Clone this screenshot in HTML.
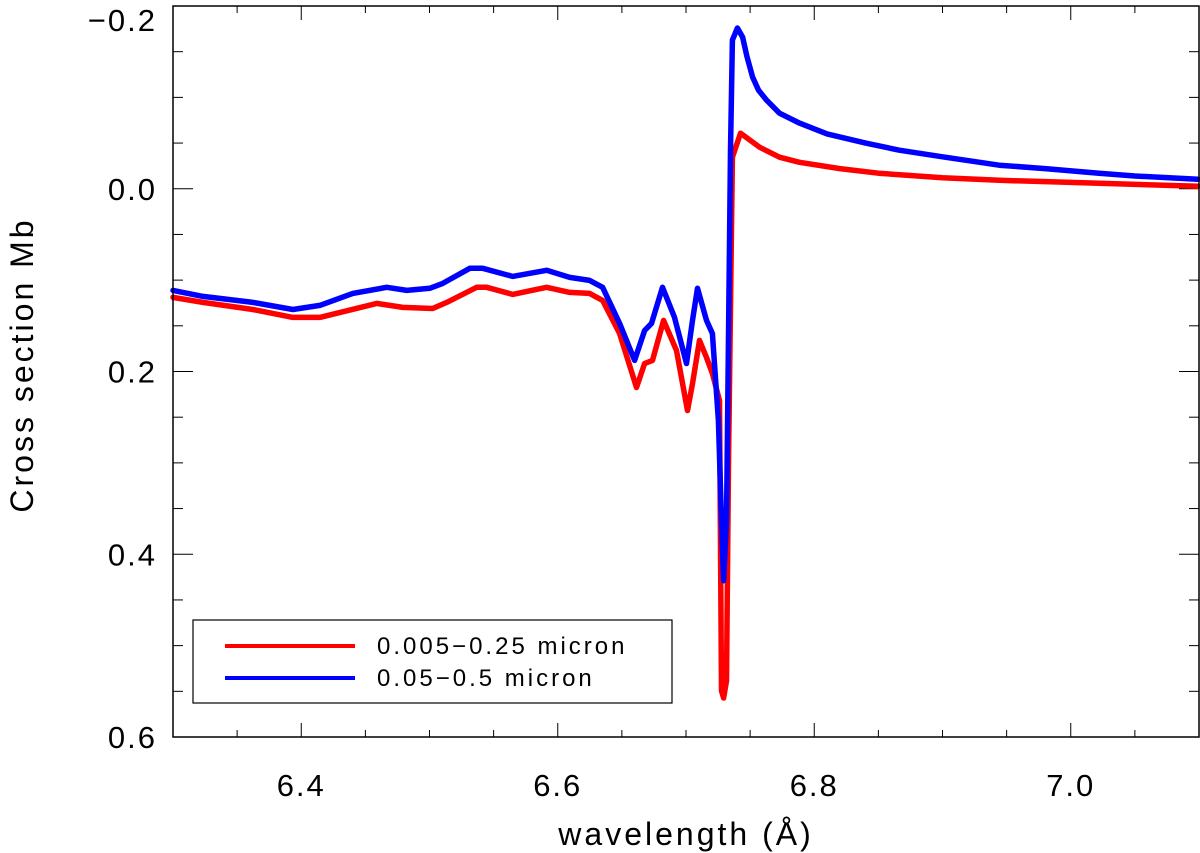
<!DOCTYPE html>
<html><head><meta charset="utf-8">
<style>
html,body{margin:0;padding:0;background:#fff;}
svg{display:block;font-family:"Liberation Sans",sans-serif;}
</style></head>
<body>
<svg id="chart" width="1200" height="853" viewBox="0 0 1200 853" xmlns="http://www.w3.org/2000/svg">
<rect x="0" y="0" width="1200" height="853" fill="#fff"/>
<g id="axes"></g>
<g id="series"></g>
<rect x="173" y="6" width="1026" height="731" fill="none" stroke="#000" stroke-width="1.5"/>
<g>
<rect x="193" y="620" width="479" height="83" fill="#fff" stroke="#000" stroke-width="1.2"/>
<line x1="225" y1="646" x2="355" y2="646" stroke="#ff0000" stroke-width="4"/>
<text x="377" y="654" font-size="24" letter-spacing="3" fill="#000">0.005−0.25 micron</text>
<line x1="225" y1="678" x2="355" y2="678" stroke="#0000ff" stroke-width="4"/>
<text x="377" y="686" font-size="24" letter-spacing="3" fill="#000">0.05−0.5 micron</text>
</g>
<text x="686" y="845" font-size="32" letter-spacing="3" text-anchor="middle">wavelength (Å)</text>
<text transform="translate(33,365) rotate(-90)" font-size="32" letter-spacing="3" text-anchor="middle">Cross section Mb</text>
</svg>
<script>
const xTicks = [6.4, 6.6, 6.8, 7.0];
const xTickLabels = ["6.4", "6.6", "6.8", "7.0"];
const yTicks = [-0.2, 0.0, 0.2, 0.4, 0.6];
const yTickLabels = ["−0.2", "0.0", "0.2", "0.4", "0.6"];
const redX = [6.3,6.3234,6.3623,6.3935,6.4145,6.4589,6.4792,6.5025,6.5134,6.5368,6.5446,6.5648,6.5913,6.6093,6.6248,6.635,6.6482,6.6614,6.6677,6.6739,6.6825,6.6926,6.7012,6.7051,6.7105,6.716,6.7206,6.7261,6.7277,6.7293,6.7316,6.7331,6.7362,6.7425,6.7574,6.7729,6.7885,6.82,6.85,6.9,6.9442,7.0,7.0221,7.0992];
const redY = [0.1189,0.1244,0.1321,0.1408,0.1408,0.1255,0.1299,0.131,0.1244,0.1079,0.1079,0.1156,0.1079,0.1134,0.1145,0.1222,0.1584,0.2175,0.1912,0.1879,0.1441,0.177,0.2427,0.2132,0.166,0.1847,0.2022,0.2318,0.5496,0.5573,0.5386,0.3,-0.0345,-0.0608,-0.0455,-0.0345,-0.029,-0.022,-0.017,-0.012,-0.0093,-0.007,-0.006,-0.0027];
const blueX = [6.3,6.3234,6.3623,6.3935,6.4145,6.4402,6.4667,6.4823,6.5002,6.5103,6.5314,6.5415,6.5648,6.5913,6.6093,6.6248,6.635,6.6482,6.6599,6.6677,6.6731,6.6817,6.691,6.7004,6.7051,6.709,6.716,6.7206,6.7253,6.7277,6.7293,6.7316,6.7347,6.7362,6.7401,6.7441,6.7475,6.7519,6.7565,6.7628,6.7729,6.7885,6.81,6.84,6.8663,6.9,6.9442,6.98,7.0221,7.05,7.0992];
const blueY = [0.1112,0.1178,0.1244,0.1321,0.1277,0.1145,0.1079,0.1112,0.109,0.1036,0.0871,0.0871,0.0959,0.0893,0.097,0.1003,0.1079,0.1474,0.1879,0.1551,0.1474,0.1079,0.1408,0.1912,0.1441,0.109,0.1441,0.1584,0.2537,0.3633,0.429,0.3633,-0.0422,-0.1627,-0.1759,-0.166,-0.145,-0.1222,-0.108,-0.097,-0.0827,-0.0718,-0.06,-0.05,-0.0422,-0.035,-0.0258,-0.022,-0.017,-0.014,-0.0104];

const X0=173, X1=1199, Y0=6, Y1=737;
const xMin=6.3, xMax=7.1, yMin=-0.2, yMax=0.6;
function sx(v){return X0+(v-xMin)/(xMax-xMin)*(X1-X0);}
function sy(v){return Y0+(v-yMin)/(yMax-yMin)*(Y1-Y0);}
const NS="http://www.w3.org/2000/svg";
const axes=document.getElementById('axes');
function mk(tag,attrs,parent){const e=document.createElementNS(NS,tag);for(const k in attrs)e.setAttribute(k,attrs[k]);parent.appendChild(e);return e;}

for(let i=0;i<=16;i++){
  const v=xMin+i*0.05; const major=((i+2)%4===0);
  const len=major?14:7; const x=sx(v);
  const t1=mk('line',{x1:x,y1:Y1,x2:x,y2:Y1-len,stroke:'#000','stroke-width':1},axes);
  
  
  const t2=mk('line',{x1:x,y1:Y0,x2:x,y2:Y0+len,stroke:'#000','stroke-width':1},axes);
  
  
}
xTicks.forEach((v,i)=>{
  const t=mk('text',{x:sx(v),y:796,'font-size':31,'letter-spacing':2,'text-anchor':'middle'},axes);
  t.textContent=xTickLabels[i];
  
  
});
for(let i=0;i<=16;i++){
  const v=yMin+i*0.05; const major=(i%4===0);
  const len=major?20:10; const y=sy(v);
  const t1=mk('line',{x1:X0,y1:y,x2:X0+len,y2:y,stroke:'#000','stroke-width':1},axes);
  
  
  const t2=mk('line',{x1:X1,y1:y,x2:X1-len,y2:y,stroke:'#000','stroke-width':1},axes);
  
  
}
yTicks.forEach((v,i)=>{
  let y=sy(v)+11; if(i===0) y=sy(v)+25;
  const t=mk('text',{x:157,y:y,'font-size':31,'letter-spacing':2,'text-anchor':'end'},axes);
  t.textContent=yTickLabels[i];
  
  
});
const sg=document.getElementById('series');
function drawLine(xs,ys,color,name){
  const d=xs.map((v,i)=>(i?'L':'M')+sx(v).toFixed(1)+','+sy(ys[i]).toFixed(1)).join(' ');
  const p=mk('path',{d:d,fill:'none',stroke:color,'stroke-width':5.5,'stroke-linejoin':'round','stroke-linecap':'round'},sg);
  
  
}
drawLine(redX,redY,'#ff0000','series-0.005-0.25-micron');
drawLine(blueX,blueY,'#0000ff','series-0.05-0.5-micron');
</script>
</body></html>
